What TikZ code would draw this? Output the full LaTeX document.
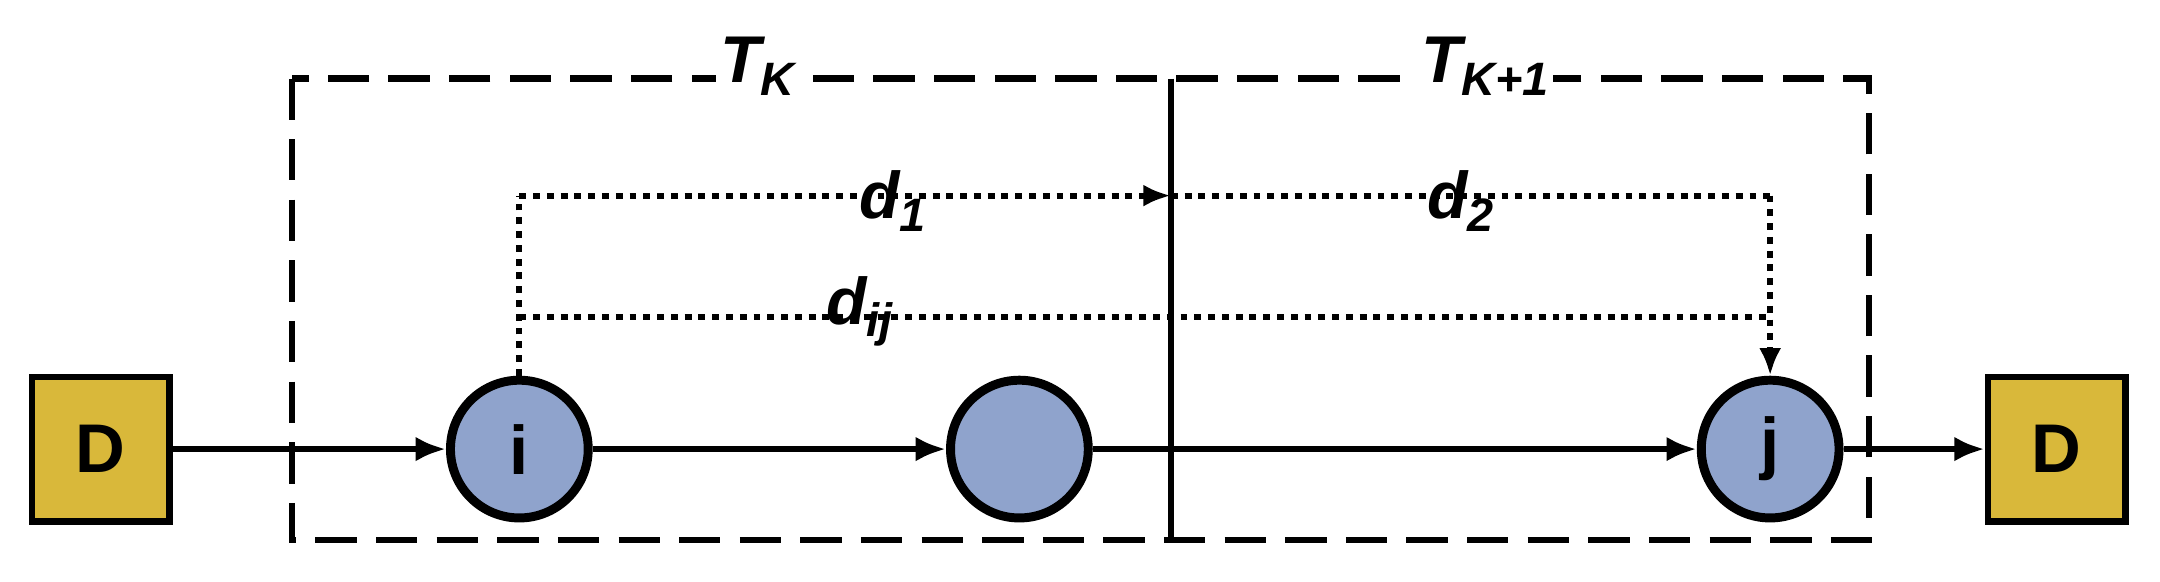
\documentclass[tikz,border=0pt]{standalone}
\usepackage{fontspec}
\setmainfont{Liberation Sans}
\usetikzlibrary{arrows.meta}
\definecolor{gold}{HTML}{D9B83A}
\definecolor{blu}{HTML}{8FA3CC}
\newcommand{\sbs}[1]{\raisebox{-9pt}{\fontsize{34}{36}\selectfont #1}}
\begin{document}
\begin{tikzpicture}[x=1pt,y=-1pt,
  box/.style={draw,line width=4.5pt,fill=gold,minimum width=100pt,minimum height=105pt,font=\fontsize{50}{54}\selectfont\bfseries},
  nd/.style={draw,line width=6.5pt,circle,fill=blu,minimum size=100pt,inner sep=0pt,font=\fontsize{50}{54}\selectfont\bfseries},
  lab/.style={font=\fontsize{48}{52}\selectfont\bfseries\itshape},
  arr/.style={line width=4.5pt,-{Latex[length=22pt,width=18pt]}},
  dot/.style={line width=4.5pt,dash pattern=on 5pt off 5pt},
  dsh/.style={line width=4.5pt,dash pattern=on 30pt off 14pt}]
\useasboundingbox (0,0) rectangle (1568,422);
\draw[dsh] (212,57) rectangle (1357,392);
\draw[line width=4.5pt] (850,57) -- (850,390);
\node[box] (D1) at (73,326) {D};
\node[box] (D2) at (1493,326) {D};
\node[nd] (i) at (377,326) {i};
\node[nd] (m) at (740,326) {};
\node[nd] (j) at (1285,326) {j};
\draw[arr] (D1) -- (i);
\draw[arr] (i) -- (m);
\draw[arr] (m) -- (j);
\draw[arr] (j) -- (D2);
\coordinate (a) at (377,142);
\coordinate (b) at (850,142);
\coordinate (c) at (1285,142);
\draw[dot] (i.north) -- (a);
\draw[dot,-{Latex[length=20pt,width=16pt]}] (a) -- (b);
\draw[dot] (b) -- (c);
\draw[dot,-{Latex[length=20pt,width=16pt]}] (c) -- (j.north);
\coordinate (e) at (377,230);
\coordinate (f) at (1285,230);
\draw[dot] (e) -- (f);
\node[lab,fill=white,inner sep=3pt] (tk) at (550,48) {T\sbs{K}};
\node[lab,fill=white,inner sep=3pt] (tk1) at (1078,48) {T\sbs{K+1}};
\node[lab,inner sep=1pt] (d1) at (648,146) {d\sbs{1}};
\node[lab,inner sep=1pt] (d2) at (1060,146) {d\sbs{2}};
\node[lab,inner sep=1pt] (dij) at (624,226) {d\sbs{ij}};
\end{tikzpicture}
\end{document}
